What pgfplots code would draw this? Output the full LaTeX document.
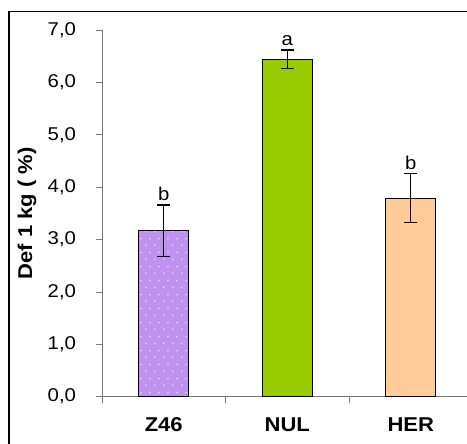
\documentclass[border=0pt]{standalone}
\usepackage{pgfplots}
\pgfplotsset{compat=1.18}
\usepackage{fontspec}
\setmainfont{Liberation Sans}
\usetikzlibrary{patterns}

\definecolor{lilac}{RGB}{192,146,240}
\definecolor{lilacdot}{RGB}{232,206,255}
\definecolor{limegreen}{RGB}{153,204,0}
\definecolor{peach}{RGB}{255,204,153}
\definecolor{axisgray}{RGB}{120,120,120}

% sparse staggered dots for the first bar
\pgfdeclarepatternformonly{sparsedots}{\pgfpointorigin}{\pgfpoint{9pt}{14pt}}{\pgfpoint{9pt}{14pt}}{%
  \pgfpathcircle{\pgfpoint{2pt}{3pt}}{1pt}%
  \pgfpathcircle{\pgfpoint{6.5pt}{10pt}}{1pt}%
  \pgfusepath{fill}}

\tikzset{
  regtext/.style={font=\fontsize{18.5}{20}\selectfont, xscale=1.1},
  boldtext/.style={font=\fontsize{20}{22}\selectfont\bfseries, xscale=1.1},
}

\begin{document}
\begin{tikzpicture}[x=1pt,y=1pt]
\path[use as bounding box] (0,0) rectangle (467,444);
\clip (0,0) rectangle (467,444);
% outer chart frame
\draw[line width=1.4pt] (9,-20) -- (9,432.5) -- (500,432.5);

\begin{axis}[
  at={(102pt,47.3pt)}, anchor=south west,
  scale only axis, width=370.5pt, height=366.7pt,
  xmin=0, xmax=3, ymin=0, ymax=7,
  axis lines=left, axis line style={-, draw=axisgray, line width=0.8pt},
  tick align=outside, tick style={draw=axisgray, line width=0.8pt},
  major tick length=6pt,
  xtick={0,1,2,3}, xticklabels={},
  extra x ticks={0.5,1.5,2.5},
  extra x tick labels={Z46,NUL,HER},
  extra x tick style={major tick length=0pt,
    tick label style={boldtext, anchor=center, yshift=-28pt}},
  ytick={0,1,...,7},
  yticklabel style={regtext, anchor=east, inner sep=0pt, xshift=-18pt},
  /pgf/number format/.cd, fixed, fixed zerofill, precision=1, use comma, assume math mode=true,
  /pgfplots/.cd,
  ylabel={Def 1 kg ( \%)},
  ylabel style={at={(axis description cs:-0.2024,0.5)}, anchor=center, boldtext},
  clip=false,
]
\addplot[ybar, bar width=50pt, draw=black, line width=1.3pt, fill=lilac,
  postaction={pattern=sparsedots, pattern color=lilacdot},
  error bars/.cd, y dir=both, y explicit,
  error bar style={line width=1.4pt, black},
  error mark options={rotate=90, mark size=6.5pt, line width=1.4pt, black}]
  coordinates {(0.5,3.17) +- (0,0.49)};
\addplot[ybar, bar width=50pt, draw=black, line width=1.3pt, fill=limegreen,
  error bars/.cd, y dir=both, y explicit,
  error bar style={line width=1.4pt, black},
  error mark options={rotate=90, mark size=6.5pt, line width=1.4pt, black}]
  coordinates {(1.5,6.44) +- (0,0.18)};
\addplot[ybar, bar width=50pt, draw=black, line width=1.3pt, fill=peach,
  error bars/.cd, y dir=both, y explicit,
  error bar style={line width=1.4pt, black},
  error mark options={rotate=90, mark size=6.5pt, line width=1.4pt, black}]
  coordinates {(2.5,3.79) +- (0,0.47)};
% significance letters
\node[regtext, anchor=south, inner sep=0pt, yshift=4pt] at (axis cs:0.5,3.66) {b};
\node[regtext, anchor=south, inner sep=0pt, yshift=4pt] at (axis cs:1.5,6.62) {a};
\node[regtext, anchor=south, inner sep=0pt, yshift=4pt] at (axis cs:2.5,4.26) {b};
\end{axis}
\end{tikzpicture}
\end{document}
